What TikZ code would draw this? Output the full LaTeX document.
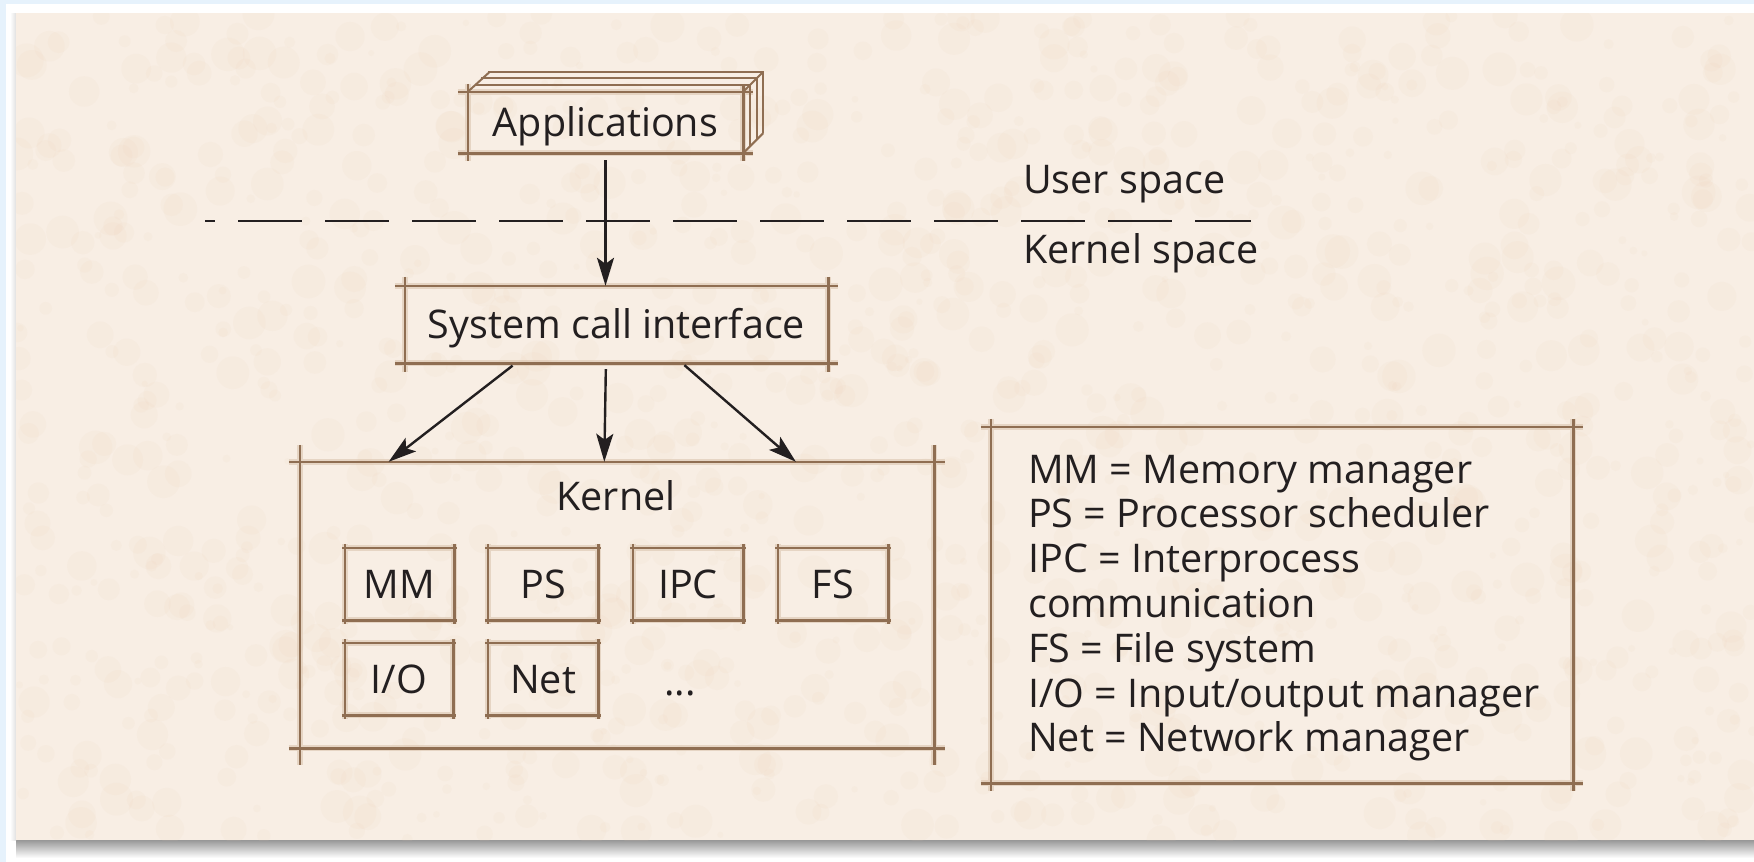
\documentclass[tikz,border=0pt]{standalone}
\usepackage{fontspec}
\setmainfont{Open Sans}
\usetikzlibrary{arrows.meta,calc}

\definecolor{bgblue}{HTML}{E6F2FC}
\definecolor{paper}{HTML}{F8EEE4}
\definecolor{blot}{HTML}{EBCDB2}
\definecolor{pen}{HTML}{8F6E52}
\definecolor{penhalo}{HTML}{D2B89F}
\definecolor{ink}{HTML}{231F20}

\tikzset{
  penline/.style={draw=pen, line width=2.6pt},
  penhaze/.style={draw=penhalo, line width=6pt, opacity=0.45},
}

% one pass of a sketched frame: lines run past the corners of a node
\newcommand\skpass[4]{%
  \draw[#4]
    ($(#1.north west)+(-#2,0)$) -- ($(#1.north east)+(#2,0)$)
    ($(#1.south west)+(-#2,0)$) -- ($(#1.south east)+(#2,0)$)
    ($(#1.north west)+(0,-#3)$) -- ($(#1.south west)+(0,#3)$)
    ($(#1.north east)+(0,-#3)$) -- ($(#1.south east)+(0,#3)$);%
}
\newcommand\skframe[3]{\skpass{#1}{#2}{#3}{penhaze}\skpass{#1}{#2}{#3}{penline}}

\begin{document}
\begin{tikzpicture}[x=1pt,y=-1pt,
  every node/.style={font=\fontsize{39.5}{45}\selectfont, text=ink},
  box/.style={rectangle, draw=none, inner sep=0pt, text height=28pt, text depth=0pt},
  arr/.style={draw=ink, line width=2.4pt, -{Stealth[length=28pt,width=17pt,inset=6pt]}},
  legtext/.style={anchor=base west, inner sep=0pt},
]

% page, margins and paper sheet
\useasboundingbox (0,0) rectangle (1754,862);
\fill[bgblue] (0,0) rectangle (1754,862);
\fill[white] (6,4) rectangle (1754,862);
\shade[top color=black!45, bottom color=white] (16,838) rectangle (1754,858);
\shade[left color=white, right color=black!12] (10,13) rectangle (16,840);
\fill[paper] (16,13) rectangle (1754,840);
\begin{scope}
  \clip (16,13) rectangle (1754,840);
  \pgfmathsetseed{42}
  \foreach \i in {1,...,1400}{
    \pgfmathsetmacro\px{16+rnd*1738}
    \pgfmathsetmacro\py{13+rnd*827}
    \pgfmathsetmacro\rr{3+rnd*14}
    \fill[blot, opacity=0.09] (\px,\py) circle[radius=\rr];
  }
\end{scope}

% applications block with its stacked layers
\node[box, minimum width=275pt, minimum height=61pt] (app) at (605.5,122.5) {Applications};
\skframe{app}{10}{8}
\foreach \o in {7,13.5,20}{
  \draw[penline, line width=2pt] ($(app.north west)+(\o,-\o)$) -- ($(app.north east)+(\o,-\o)$)
                  -- ($(app.south east)+(\o,-\o)$);
}
\draw[penline, line width=2pt] (app.north west) -- +(22,-20);
\draw[penline, line width=2pt] (app.north east) -- +(20,-20);
\draw[penline, line width=2pt] (app.south east) -- +(20,-20);

% user / kernel boundary
\coordinate (dl) at (205,221);
\coordinate (dr) at (1251,221);
\draw[ink, line width=2.2pt, dash pattern=on 64pt off 23pt, dash phase=54pt] (dl) -- (dr);
\node[anchor=base west, inner sep=0pt] (us) at (1023,193) {User space};
\node[anchor=base west, inner sep=0pt] (ks) at (1023,263) {Kernel space};

% system call interface
\node[box, minimum width=423pt, minimum height=77pt] (sci) at (616.5,324.5) {System call interface};
\skframe{sci}{10}{9}

% kernel and its parts
\node[box, minimum width=634pt, minimum height=286pt] (kern) at (617,605) {};
\skframe{kern}{11}{17}
\node[box] (klabel) at (616,496) {Kernel};

\node[box, minimum width=109pt, minimum height=72pt] (mm)  at (399.5,584) {MM};
\node[box, minimum width=110pt, minimum height=72pt] (ps)  at (543,584)   {PS};
\node[box, minimum width=110pt, minimum height=72pt] (ipc) at (688,584)   {IPC};
\node[box, minimum width=110pt, minimum height=72pt] (fs)  at (833,584)   {FS};
\node[box, minimum width=108pt, minimum height=72pt] (io)  at (399,679)   {I/O};
\node[box, minimum width=110pt, minimum height=72pt] (net) at (543,679)   {Net};
\node[anchor=base, inner sep=0pt] (more) at (680,695) {...};
\foreach \n in {mm,ps,ipc,fs,io,net}{ \skframe{\n}{3}{4} }

% calls into the kernel
\draw[arr, shorten <=7pt] (app.south) -- (app.south |- sci.north);
\draw[arr, shorten <=4pt] ($(sci.south west)!0.262!(sci.south east)$) -- ($(kern.north west)!0.14!(kern.north east)$);
\draw[arr, shorten <=6pt] ($(sci.south west)!0.475!(sci.south east)$) -- ($(kern.north west)!0.48!(kern.north east)$);
\draw[arr, shorten <=3pt] ($(sci.south west)!0.655!(sci.south east)$) -- ($(kern.north west)!0.782!(kern.north east)$);

% legend
\node[box, minimum width=582pt, minimum height=356pt] (leg) at (1282,605) {};
\skframe{leg}{10}{8}
\foreach \t [count=\i] in {MM = Memory manager, PS = Processor scheduler, IPC = Interprocess,
    communication, FS = File system, I/O = Input/output manager, Net = Network manager}{
  \node[legtext] (leg\i) at (1028, 483+44.8*\i-44.8) {\t};
}
\end{tikzpicture}
\end{document}
